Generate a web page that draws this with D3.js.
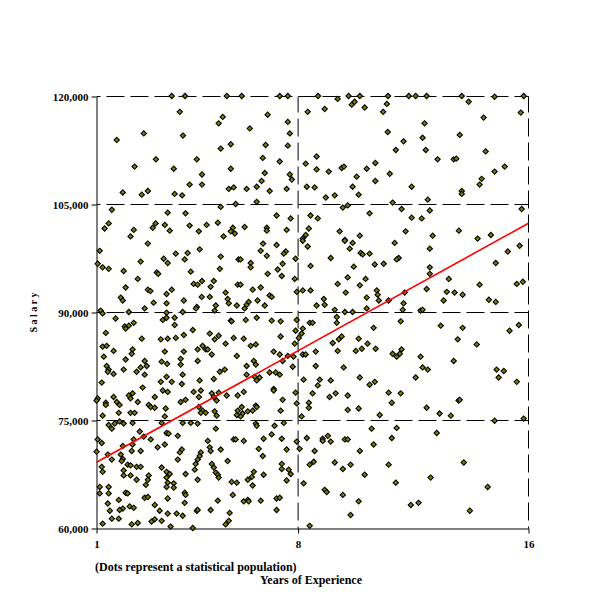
<!DOCTYPE html>
<html>
<head>
<meta charset="utf-8">
<script src="https://cdn.jsdelivr.net/npm/d3@7"></script>
<style>
  body { margin: 0; background: #fff; }
  text { font-family: "Liberation Serif", "Times New Roman", serif; font-weight: bold; }
</style>
</head>
<body>
<svg id="chart" width="600" height="600"></svg>
<script>
// values: [years of experience, salary]
var population = [
  [3.63,120000],[4.09,120000],[5.54,120000],[3.91,117800],[5.40,117100],[5.26,116200],[2.66,114800],[4.02,114500],[1.72,113900],[5.68,113300],[5.33,112700],[3.08,111200],[4.50,111200],[2.34,110200],[3.70,109900],[5.68,109900],[4.68,109100],[4.25,107700],[4.68,107700],[1.93,106600],[2.80,106800],[2.59,106300],[3.73,106400],[3.99,106200],[5.61,107100],[5.78,107300],[5.85,105000],[5.33,104600],[1.55,104200],[3.49,103800],[4.11,103700],[1.44,102300],[1.30,101600],[3.07,102300],[2.97,101700],[3.39,102100],[2.31,101400],[3.56,101300],[4.25,102000],[4.84,102100],[5.23,102400],[4.57,101200],[5.75,101700],[5.68,101200],[5.82,100900],[2.20,100500],[5.43,100500],
  [6.06,120000],[7.38,120000],[7.66,120000],[8.71,120000],[9.77,120000],[10.16,120000],[11.14,120000],[9.39,119600],[9.98,119200],[9.88,118800],[10.33,118400],[11.10,118900],[8.94,118200],[8.35,117800],[10.97,117800],[6.96,117400],[7.66,116400],[6.34,115500],[7.73,114800],[11.13,115000],[6.89,113200],[7.66,113100],[6.79,111400],[7.38,110900],[8.66,111600],[8.28,110600],[10.70,110700],[6.86,109300],[7.73,109100],[8.66,109800],[9.08,109500],[9.53,110000],[9.61,110200],[10.40,109900],[11.20,109200],[6.75,108200],[7.80,108400],[10.05,108800],[10.70,108200],[6.23,107100],[6.58,107400],[7.03,106800],[7.62,107100],[8.32,107400],[8.59,107300],[9.91,107400],[10.12,106300],[8.98,105900],[9.29,106200],[6.58,105300],[9.57,104500],[9.74,104800],[10.50,103700],[7.27,103400],[7.76,103000],[8.45,103400],[8.70,103000],[6.16,101800],[6.93,101700],[6.93,101300],[7.62,101400],[8.39,101600],[8.28,100700],[9.46,101200],[10.16,100600],[9.64,100000],[8.18,100200],
  [11.86,120000],[12.10,120000],[12.48,120000],[13.70,120000],[14.84,119900],[15.85,120000],[13.94,119200],[15.75,117700],[14.46,117000],[12.41,116200],[13.63,114600],[12.34,114200],[11.68,113700],[11.41,112500],[12.45,112500],[14.53,112300],[12.86,111200],[13.42,111200],[13.51,111300],[15.19,110200],[14.84,109500],[14.39,108500],[14.32,107700],[11.96,107400],[13.70,106800],[13.70,106400],[12.52,105600],[11.30,105200],[11.61,104300],[12.59,104100],[15.78,104300],[11.96,103100],[12.31,103000],[11.75,101200],[12.69,100600],[13.60,101300],[14.25,100200],[14.71,100700],
  [2.80,99500],[1.13,98500],[3.77,98100],[4.18,98200],[4.60,98700],[5.33,97700],[3.35,97400],[4.08,97300],[3.49,96800],[2.55,97000],[5.95,97300],[1.06,96700],[1.23,96200],[1.44,96000],[5.30,96000],[1.96,95700],[3.11,95500],[3.16,95300],[4.29,95600],[2.45,94600],[4.39,93900],[4.53,93800],[4.68,94300],[5.09,94300],[4.98,93500],[5.92,93800],[2.03,93400],[2.80,93100],[2.89,92900],[3.63,93100],[3.45,92500],[5.50,92700],[1.86,92000],[1.93,91600],[4.67,92100],[4.95,92100],[5.57,91800],[4.05,91600],[3.00,91300],[3.45,91200],[5.61,91200],[5.16,90900],[5.89,90900],[4.50,90700],[4.47,90500],[2.69,90500],[1.16,90200],[1.23,89800],[2.14,90000],[3.45,89900],[4.01,90000],[5.12,90200],[1.68,89100],[3.32,88900],[3.45,89200],[3.73,89200],[2.31,88500],[5.68,88800],[5.71,88700],[3.73,88200],[2.00,88000],[2.14,88100],[2.03,87700],[4.36,87500],[1.34,87100],[4.95,87000],[4.05,86800],[5.26,86700],[2.59,86300],[3.25,86200],[3.49,86300],[3.77,86400],[5.12,86200],[5.78,86400],[5.50,85600],[1.23,85200],[1.37,85300],[1.61,84600],[2.27,84800],[2.24,84200],[3.39,84500],[4.05,84500],[4.53,84800],[4.70,85300],[4.81,84800],[4.88,84800],[5.02,84100],[1.27,83800],[2.03,83400],[2.69,83200],[3.28,83100],[3.94,83500],[4.53,83200],[5.89,83900],[1.37,82500],[2.76,82500],[3.47,82800],[3.94,82700],[1.44,82000],[1.41,81700],[1.96,82000],[2.55,82300],[2.41,81700],[1.61,81400],[2.69,81300],[5.30,81700],[5.47,82000],[3.45,81000],[4.01,81300],[5.09,80700],[1.20,80200],[3.25,80300],[3.63,80300],[3.98,80000],[4.60,80500],[2.62,79500],
  [6.80,99500],[7.27,99300],[8.18,99900],[8.35,99100],[9.64,99900],[9.91,99600],[9.81,98800],[10.19,98200],[10.26,98000],[10.50,98100],[6.72,98500],[6.93,97800],[7.59,98400],[7.52,98100],[7.93,97400],[9.15,97500],[6.02,97300],[6.37,96800],[6.37,96200],[7.48,96700],[7.31,95900],[8.45,96400],[9.95,96300],[10.68,96600],[10.99,96700],[6.96,95300],[7.45,95000],[7.90,94600],[9.74,94800],[10.36,94600],[6.02,93800],[9.39,93900],[10.16,93700],[6.44,93100],[6.72,93400],[7.97,92800],[8.18,93000],[8.45,93000],[7.03,92300],[7.10,92100],[9.67,92700],[10.75,93000],[10.78,92400],[6.30,91400],[6.23,91000],[6.16,90500],[6.61,91600],[6.86,90900],[8.91,91800],[8.94,91000],[8.66,90900],[10.40,92000],[10.82,91600],[11.16,91600],[10.40,90500],[9.29,90300],[9.64,90000],[9.91,90000],[6.20,88900],[6.58,89200],[7.10,88800],[7.41,88700],[7.97,88900],[8.42,88500],[8.52,88500],[9.36,89300],[9.36,88500],[10.64,87800],[7.93,87400],[8.18,87700],[8.14,87000],[6.13,86300],[7.41,86600],[8.04,86400],[9.53,86600],[9.43,86200],[10.12,86300],[9.22,85700],[10.43,85600],[6.37,85300],[6.55,85500],[7.90,85600],[10.23,84900],[10.02,84600],[10.71,84900],[9.39,84600],[8.63,84500],[7.17,84500],[7.38,84100],[7.66,83900],[7.86,83800],[8.18,84100],[8.28,84100],[6.48,83200],[7.48,83200],[6.23,82500],[6.55,82700],[7.83,82400],[8.63,82500],[9.60,82300],[6.23,81300],[7.03,81600],[7.24,81600],[7.38,81300],[6.51,81000],[6.68,80900],[6.58,80500],[8.21,80600],[8.77,80600],[9.15,80500],[10.16,80900],[10.68,80300],[10.50,79900],[8.70,79800],[7.17,79300],
  [11.37,99600],[12.59,98800],[15.71,99200],[15.30,98400],[11.51,97500],[11.44,97300],[14.88,96800],[12.59,96200],[12.59,95300],[13.25,94600],[14.32,93800],[15.61,93900],[15.82,94200],[12.48,93200],[11.72,92700],[13.18,92800],[13.45,92700],[13.73,92400],[11.68,91200],[13.07,91600],[14.64,91700],[14.88,91400],[11.65,90300],[12.27,90200],[12.34,90300],[11.58,88700],[12.97,88100],[13.73,87800],[15.68,88200],[15.36,87400],[13.56,86200],[14.22,85500],[11.61,84800],[11.55,84200],[11.30,84200],[11.44,83800],[12.27,83800],[13.42,83200],[12.34,82300],[12.52,82000],[14.91,82000],[15.16,81800],[12.10,80900],[14.98,80900],[15.61,80300],
  [1.61,78200],[2.14,78400],[2.27,78700],[2.20,78000],[3.04,78200],[3.32,79100],[3.49,78900],[1.06,78000],[1.02,77700],[1.34,77400],[1.34,77100],[1.72,77500],[1.82,77100],[2.45,77500],[2.83,77100],[2.90,76800],[3.04,76700],[3.42,76600],[3.94,77500],[4.11,77800],[4.39,78900],[4.64,79100],[4.57,78200],[5.09,78200],[5.02,78700],[5.19,77700],[5.26,78800],[5.54,78400],[5.92,78400],[4.57,76800],[4.70,76300],[4.64,76000],[4.81,76000],[5.12,76200],[5.19,75600],[5.92,76300],[5.89,75700],[1.23,75600],[1.79,76000],[2.20,76000],[2.34,76000],[3.39,75500],[1.44,74300],[1.55,73800],[1.65,74500],[1.82,74800],[1.96,74500],[2.27,74600],[3.28,74600],[4.01,74600],[4.29,74600],[4.53,74500],[5.16,73800],[2.52,73400],[3.45,73200],[3.52,73100],[2.66,72700],[3.84,72800],[1.06,72300],[1.20,71800],[2.31,72300],[2.90,72300],[3.39,71600],[4.88,72100],[5.78,72300],[5.85,72300],[1.93,71400],[2.27,71600],[3.14,71200],[4.95,71200],[4.98,70700],[5.33,70900],[1.02,70600],[2.24,70700],[2.55,70700],[3.98,70900],[3.91,70500],[4.64,70500],[4.60,70000],[1.41,70200],[1.86,70200],[1.55,69500],[1.93,69600],[1.89,69300],[3.84,69500],[4.53,69500],[5.57,69300],[4.46,68900],[5.02,68900],[2.10,68800],[2.20,68700],[2.41,68500],[2.55,68500],[3.28,68400],[5.09,68400],[1.20,68500],[4.43,68100],[1.23,67800],[1.96,68000],[3.45,67800],[3.56,67500],[4.11,67500],[5.16,67700],[5.23,67400],[1.96,67300],[2.20,67300],[2.83,67300],[3.45,67000],[5.26,67000],[2.41,66700],[2.80,66700],[4.53,66700],[5.71,66400],[5.89,66300],[2.73,66000],[3.49,66300],[3.70,66200],[3.45,65700],[3.70,65600],[1.13,65700],[1.44,65700],[1.44,64800],[1.13,64800],[2.03,64900],[2.10,64800],[4.08,64900],[4.11,64600],[5.75,64600],[2.69,64200],[2.80,64300],[3.49,64100],[1.79,63900],[5.23,63800],[1.41,63400],[3.04,63200],[4.08,63500],[2.17,63000],[2.31,62800],[1.93,62700],[1.82,62500],[1.48,62400],[3.21,62400],[4.50,62400],[4.53,62500],[4.98,62500],[3.49,62000],[3.80,62000],[4.01,61700],[5.64,62100],[1.55,61300],[1.79,61300],[3.04,61200],[2.93,60900],[3.28,61000],[1.23,60600],[2.24,60500],[2.45,60700],[3.59,60200],[4.36,60000],[5.50,60500],[5.61,61000],
  [6.13,78900],[7.17,79100],[7.93,78800],[8.52,78700],[9.11,78200],[9.32,78700],[9.74,78400],[11.16,78800],[7.48,77800],[6.06,76800],[6.55,77000],[6.58,76800],[6.44,76300],[6.27,76200],[6.09,75900],[6.02,75500],[7.41,76300],[7.97,77300],[8.39,77400],[8.39,76700],[9.74,76400],[10.12,76600],[10.85,75700],[8.14,75500],[6.55,74500],[6.58,74200],[7.20,74200],[7.52,74600],[10.57,73800],[7.10,73000],[6.13,72100],[6.82,72400],[7.45,72400],[7.97,72000],[8.32,72500],[8.87,72400],[8.87,72100],[9.05,72800],[9.15,72000],[9.64,72300],[9.74,72300],[10.64,71600],[6.65,71000],[7.62,70900],[8.07,71000],[8.59,70700],[10.16,70700],[6.79,70000],[7.45,68900],[7.45,68200],[7.69,68100],[7.76,67500],[8.42,68800],[8.56,69200],[9.29,69100],[9.84,68800],[9.57,68200],[11.16,68800],[6.48,67800],[6.82,67400],[6.41,67100],[6.27,66700],[10.33,67400],[7.62,66600],[6.44,65900],[8.21,66200],[8.94,65300],[9.01,65000],[9.57,64600],[6.13,63700],[6.27,63900],[6.30,63700],[6.72,63800],[7.27,64100],[7.38,64200],[10.12,63700],[7.27,62500],[9.84,61800],[8.42,60300],
  [11.58,78700],[11.27,77400],[13.59,77700],[13.63,77800],[12.48,76700],[12.93,75900],[13.32,75600],[14.84,74900],[15.85,75200],[11.44,73900],[11.27,72500],[12.83,73200],[13.77,69100],[12.62,67000],[11.41,66300],[14.60,65700],[11.93,63200],[12.20,63500],[13.98,62400]
];

var xTicks = [1, 8, 16];
var yTicks = [60000, 75000, 90000, 105000, 120000];
var xGrid = [8, 16];
var yGrid = [75000, 90000, 105000, 120000];
// fitted line, end points as drawn
var trend = [[1, 69200], [16, 102400]];

var svg = d3.select('#chart');

var x = d3.scaleLinear().domain([1, 16]).range([96.5, 528.5]);
var y = d3.scaleLinear().domain([60000, 120000]).range([528.5, 96.5]);

// dashed grid
var grid = svg.append('g')
    .attr('fill', 'none')
    .attr('stroke', '#000')
    .attr('stroke-width', 1)
    .attr('stroke-dasharray', '18,6');

grid.selectAll('line.h').data(yGrid).enter().append('line')
    .attr('class', 'h')
    .attr('x1', x(1)).attr('x2', x(16))
    .attr('y1', function(d){ return y(d); })
    .attr('y2', function(d){ return y(d); })
    .attr('stroke-dashoffset', 14);

grid.selectAll('line.v').data(xGrid).enter().append('line')
    .attr('class', 'v')
    .attr('x1', function(d){ return x(d); })
    .attr('x2', function(d){ return x(d); })
    .attr('y1', y(60000)).attr('y2', y(120000))
    .attr('stroke-dashoffset', 16);

// axes
var yAxis = d3.axisLeft(y)
    .tickValues(yTicks)
    .tickSize(5)
    .tickSizeOuter(0)
    .tickPadding(3)
    .tickFormat(d3.format(','));

var xAxis = d3.axisBottom(x)
    .tickValues(xTicks)
    .tickSize(5)
    .tickSizeOuter(0)
    .tickPadding(7)
    .tickFormat(d3.format('d'));

svg.append('g')
    .attr('class', 'axis')
    .attr('transform', 'translate(' + x(1) + ',0)')
    .call(yAxis);

svg.append('g')
    .attr('class', 'axis')
    .attr('transform', 'translate(0,' + y(60000) + ')')
    .call(xAxis);

svg.selectAll('.axis text')
    .attr('font-family', '"Liberation Serif", "Times New Roman", serif')
    .attr('font-weight', 'bold')
    .attr('font-size', 11)
    .attr('fill', '#000');
svg.selectAll('.axis path, .axis line').attr('stroke', '#000');

// population dots
var diamond = d3.symbol().type(d3.symbolSquare).size(14);

svg.append('g').selectAll('path')
    .data(population)
    .enter().append('path')
    .attr('d', diamond)
    .attr('transform', function(d){
        return 'translate(' + (x(d[0]) - 0.5) + ',' + (y(d[1]) - 0.5) + ') rotate(45)';
    })
    .attr('fill', '#808000')
    .attr('stroke', '#000')
    .attr('stroke-width', 1.1);

// trend line
svg.append('path')
    .datum(trend)
    .attr('d', d3.line()
        .x(function(d){ return x(d[0]); })
        .y(function(d){ return y(d[1]); }))
    .attr('fill', 'none')
    .attr('stroke', '#ff0000')
    .attr('stroke-width', 1.6);

// labels
svg.append('text')
    .attr('transform', 'translate(37,' + y(90000) + ') rotate(-90)')
    .attr('text-anchor', 'middle')
    .attr('font-size', 10)
    .text('S a l a r y');

svg.append('text')
    .attr('x', 95)
    .attr('y', 571)
    .attr('font-size', 12)
    .text('(Dots represent a statistical population)');

svg.append('text')
    .attr('x', 311)
    .attr('y', 584)
    .attr('text-anchor', 'middle')
    .attr('font-size', 12)
    .text('Years of Experience');
</script>
</body>
</html>
